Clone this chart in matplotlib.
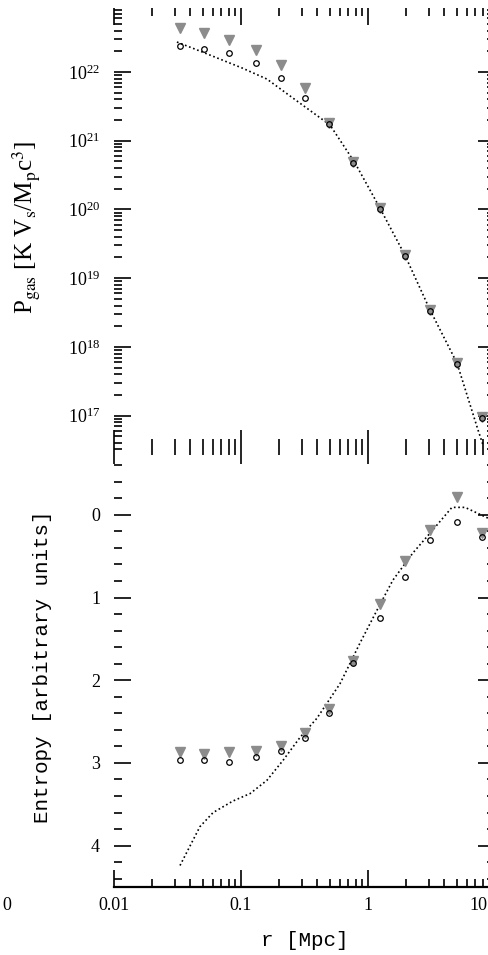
import matplotlib
matplotlib.use("Agg")
import matplotlib.pyplot as plt
from matplotlib import ticker

plt.rcParams['font.family'] = ['Liberation Serif', 'DejaVu Serif']
plt.rcParams['mathtext.fontset'] = 'stix'

# ---- data ----
r_pts = [0.0331, 0.0512, 0.0805, 0.131, 0.2065, 0.319, 0.493, 0.762,
         1.24, 1.95, 3.08, 5.02, 7.91]

p_tri = [4.35e22, 3.67e22, 2.91e22, 2.08e22, 1.26e22, 5.82e21, 1.80e21,
         4.89e20, 1.05e20, 2.17e19, 3.44e18, 5.82e17, 9.55e16]
p_circ = [2.38e22, 2.15e22, 1.88e22, 1.35e22, 8.15e21, 4.17e21, 1.75e21,
          4.72e20, 1.01e20, 2.10e19, 3.33e18, 5.64e17, 9.23e16]
r_pline = [0.0313, 0.0475, 0.102, 0.160, 0.256, 0.502, 0.791, 1.24, 1.95,
           3.08, 5.02, 7.35, 8.05]
p_line = [2.72e22, 2.01e22, 1.14e22, 7.87e21, 4.17e21, 1.69e21, 4.72e20,
          1.05e20, 2.17e19, 3.44e18, 5.82e17, 6.18e16, 3.74e16]

s_tri = [2.87, 2.89, 2.87, 2.85, 2.80, 2.64, 2.35, 1.77, 1.08, 0.56, 0.18,
         -0.22, 0.22]
s_circ = [2.97, 2.97, 2.99, 2.93, 2.85, 2.70, 2.40, 1.79, 1.25, 0.75, 0.30,
          0.09, 0.27]
r_sline = [0.0331, 0.0475, 0.0603, 0.0865, 0.118, 0.160, 0.214, 0.292, 0.396,
           0.603, 0.865, 1.18, 1.57, 2.26, 3.25, 4.58, 5.81, 8.81]
s_line = [4.24, 3.77, 3.60, 3.46, 3.37, 3.21, 2.97, 2.69, 2.46, 2.04, 1.55,
          1.15, 0.79, 0.46, 0.18, -0.09, -0.09, 0.04]

x_ticks = [0.01, 0.1, 1, 10]
x_ticklabels = ['0.01', '0.1', '1', '']
x_edge_label = '10'
s_ticks = [0, 1, 2, 3, 4]

fig = plt.figure(figsize=(4.88, 9.55), dpi=100)
L, W = 114 / 488, 381 / 488
ax1 = fig.add_axes([L, 1 - 447 / 955, W, 439 / 955])
ax2 = fig.add_axes([L, 1 - 887 / 955, W, 440 / 955])

tri_kw = dict(marker='v', linestyle='none', color='#8c8c8c', ms=6.5, zorder=3)
circ_kw = dict(marker='o', linestyle='none', mfc='none', mec='black', ms=4,
               mew=0.9, zorder=4)
line_kw = dict(color='black', lw=1.2, linestyle=(0, (1, 1.6)), zorder=2)

ax1.plot(r_pline, p_line, **line_kw)
ax1.plot(r_pts, p_tri, **tri_kw)
ax1.plot(r_pts, p_circ, **circ_kw)
ax1.set_xscale('log')
ax1.set_yscale('log')
ax1.set_xlim(0.01, 10)
ax1.set_ylim(3.5e16, 8.5e22)

ax2.plot(r_sline, s_line, **line_kw)
ax2.plot(r_pts, s_tri, **tri_kw)
ax2.plot(r_pts, s_circ, **circ_kw)
ax2.set_xscale('log')
ax2.set_xlim(0.01, 10)
ax2.set_ylim(4.5, -0.82)
ax2.yaxis.set_major_locator(ticker.FixedLocator(s_ticks))
ax2.yaxis.set_minor_locator(ticker.MultipleLocator(0.2))

for ax in (ax1, ax2):
    ax.xaxis.set_major_locator(ticker.FixedLocator(x_ticks))
    ax.xaxis.set_minor_locator(ticker.LogLocator(base=10, subs=range(2, 10)))
    ax.xaxis.set_minor_formatter(ticker.NullFormatter())
    ax.tick_params(which='both', direction='in', top=True, right=True,
                   width=1.2, labelsize=13)
    ax.tick_params(which='major', length=12)
    ax.tick_params(which='minor', length=6)
    ax.tick_params(axis='y', pad=10)
    ax.tick_params(axis='x', pad=7)
    for sp in ax.spines.values():
        sp.set_visible(False)

ax1.yaxis.set_major_locator(ticker.LogLocator(base=10, numticks=20))
ax1.yaxis.set_minor_locator(ticker.LogLocator(base=10, subs=range(2, 10), numticks=20))
ax1.yaxis.set_minor_formatter(ticker.NullFormatter())
ax1.tick_params(axis='x', labelbottom=False)

ax2.spines['bottom'].set_visible(True)
ax2.spines['bottom'].set_linewidth(1.6)
ax2.xaxis.set_major_formatter(ticker.FixedFormatter(x_ticklabels))
# the "10" label sits at the cropped right edge; keep it inside the canvas
fig.text(487 / 488, 1 - 897 / 955, x_edge_label, fontsize=13,
         ha='right', va='top')

ax1.set_ylabel(r'P$_{\rm gas}$ [K V$_{\rm s}$/M$_{\rm p}$c$^{3}$]', fontsize=18)
ax1.yaxis.set_label_coords(-0.188, 0.5)
ax2.set_ylabel('Entropy [arbitrary units]', fontsize=15,
               family=['Liberation Mono', 'DejaVu Sans Mono'])
ax2.yaxis.set_label_coords(-0.162, 0.5)
ax2.set_xlabel('r [Mpc]', fontsize=15,
               family=['Liberation Mono', 'DejaVu Sans Mono'])
ax2.xaxis.set_label_coords(0.5, -0.10)

fig.text(2 / 488, 1 - 905 / 955, '0', fontsize=13, ha='left', va='center')

fig.savefig('out.png', dpi=100)
